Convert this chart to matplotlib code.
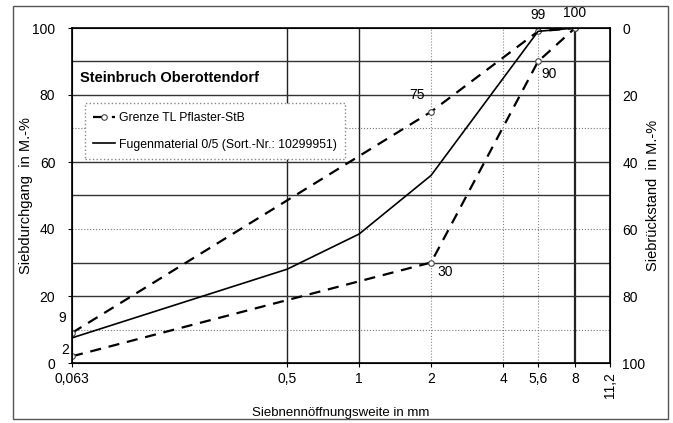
import numpy as np
import matplotlib
matplotlib.use("Agg")
import matplotlib.pyplot as plt
import matplotlib.patches as patches

plt.rcParams['font.family'] = ['Liberation Sans', 'DejaVu Sans']

# Siebweiten in mm
siebe = [0.063, 0.5, 1, 2, 4, 5.6, 8, 11.2]
sieb_labels = ['0,063', '0,5', '1', '2', '4', '5,6', '8', '']

# Grenzen TL Pflaster-StB
grenze_x = [0.063, 2, 5.6, 8]
grenze_oben = [9, 75, 99, 100]
grenze_unten = [2, 30, 90, 100]

# Fugenmaterial 0/5
fuge_x = [0.063, 0.5, 1, 2, 5.6, 8]
fuge_y = [7.5, 28, 38.5, 56, 99, 100]

# Beschriftungen an den Grenzpunkten (x, y, text, dx, dy in Punkten)
punkt_labels = [
    (0.063, 9, '9', -7, 11),
    (0.063, 2, '2', -5, 4.5),
    (2, 75, '75', -10, 12),
    (2, 30, '30', 10, -7),
    (5.6, 99, '99', 0, 12),
    (8, 100, '100', 0, 10.5),
    (5.6, 90, '90', 8, -9),
]

fig = plt.figure(figsize=(6.73, 4.23), dpi=100)
ax = fig.add_axes([72 / 673, 60 / 423, 538 / 673, 335 / 423])

# Rahmen um die ganze Grafik
fig.patches.append(patches.Rectangle((13 / 673, 4 / 423), 655 / 673, 413 / 423,
                                     transform=fig.transFigure, fill=False,
                                     edgecolor='#555555', linewidth=1.0))

ax.set_xscale('log')
ax.set_xlim(0.063, 11.2)
ax.set_ylim(0, 100)

# Gitter
for v in [0.5, 1, 8]:
    ax.axvline(v, color='#222222', lw=1.0 if v != 8 else 1.6, zorder=1)
for v in [2, 4, 5.6]:
    ax.axvline(v, color='#888888', lw=0.8, ls=':', zorder=1)
for h in [20, 30, 50, 60, 80, 90]:
    ax.axhline(h, color='#333333', lw=1.0, zorder=1)
for h in [10, 40, 70]:
    ax.axhline(h, color='#777777', lw=0.8, ls=':', zorder=1)

ax.plot(grenze_x, grenze_oben, color='black', ls=(0, (5, 3.5)), lw=1.6,
        marker='o', ms=4, mfc='white', mec='#444444', mew=0.8, zorder=3,
        label='Grenze TL Pflaster-StB')
ax.plot(grenze_x, grenze_unten, color='black', ls=(0, (5, 3.5)), lw=1.6,
        marker='o', ms=4, mfc='white', mec='#444444', mew=0.8, zorder=3)
ax.plot(fuge_x, fuge_y, color='black', lw=1.2, zorder=3,
        label='Fugenmaterial 0/5 (Sort.-Nr.: 10299951)')

for x, y, t, dx, dy in punkt_labels:
    ax.annotate(t, (x, y), xytext=(dx, dy), textcoords='offset points',
                ha='center', va='center', fontsize=10, annotation_clip=False)

ax.set_xticks(siebe)
ax.set_xticklabels(sieb_labels)
ax.xaxis.set_minor_locator(matplotlib.ticker.NullLocator())
ax.text(11.2, -2.8, '11,2', rotation=90, ha='center', va='top', fontsize=10)
ax.set_yticks([0, 20, 40, 60, 80, 100])
ax.tick_params(axis='both', labelsize=10, length=3)
ax.tick_params(axis='y', pad=9)
ax.set_xlabel('Siebnennöffnungsweite in mm', fontsize=9.5, labelpad=15)
ax.set_ylabel('Siebdurchgang  in M.-%', fontsize=10.5)
ax.yaxis.set_label_coords(-0.073, 0.5)

for s in ax.spines.values():
    s.set_linewidth(1.2)

ax2 = ax.twinx()
ax2.set_ylim(100, 0)
ax2.set_yticks([0, 20, 40, 60, 80, 100])
ax2.tick_params(axis='y', labelsize=10, length=0, pad=9)
ax2.set_ylabel('Siebrückstand  in M.-%', fontsize=10.5)
ax2.yaxis.set_label_coords(1.067, 0.5)

ax.text(0.063 * 1.08, 85, 'Steinbruch Oberottendorf', fontsize=10.5, fontweight='bold',
        va='center', ha='left', zorder=4)

leg = ax.legend(loc='upper left', bbox_to_anchor=(0.012, 0.793), fontsize=8.8,
                frameon=True, fancybox=False, handlelength=1.8,
                borderpad=0.7, labelspacing=1.2, handletextpad=0.3)
leg.get_frame().set_edgecolor('#888888')
leg.get_frame().set_linestyle(':')
leg.get_frame().set_alpha(1)
leg.set_zorder(5)

fig.savefig('out.png', dpi=100)
